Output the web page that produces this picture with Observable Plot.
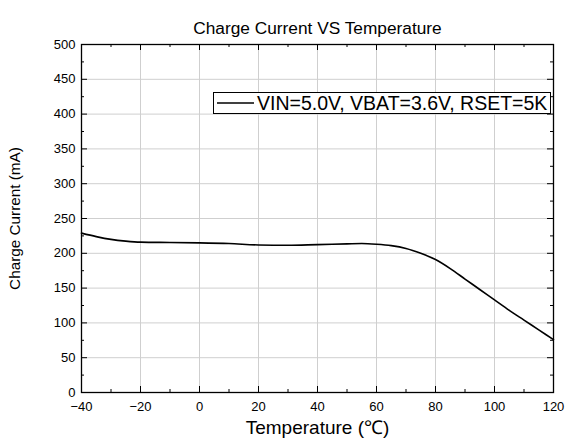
<!DOCTYPE html>
<html><head><meta charset="utf-8">
<script src="https://cdn.jsdelivr.net/npm/d3@7"></script>
<script src="https://cdn.jsdelivr.net/npm/@observablehq/plot@0.6"></script>
<style>body{margin:0;background:#fff}svg{font-family:"Liberation Sans",Arial,sans-serif}</style>
</head><body><div id="chart"></div>
<script>
const temperature = [-40,-35,-30,-25,-20,-10,0,10,20,30,40,50,55,60,65,70,75,80,85,90,95,100,105,110,115,120];
const current =     [229,224,220,217.5,216,215.5,215,214,212,211.5,212.5,213.5,214,213,211,207,200,191,178,163,148,133,118,104,90,76];
const xTicks = [-40,-20,0,20,40,60,80,100,120];
const xMinor = [-30,-10,10,30,50,70,90,110];
const yTicks = [0,50,100,150,200,250,300,350,400,450,500];
const yMinor = [25,75,125,175,225,275,325,375,425,475];
const title = "Charge Current VS Temperature";
const xLabel = "Temperature (\u2103)";
const yLabel = "Charge Current (mA)";
const legendLabel = "VIN=5.0V, VBAT=3.6V, RSET=5K";

const W = 566, H = 445, mL = 81, mR = 13, mT = 44, mB = 53;
const fw = W - mL - mR, fh = H - mT - mB;
const data = temperature.map((t,i)=>({t, c: current[i]}));
const maj = 6, mnr = 3;

const chart = Plot.plot({
  width: W, height: H, marginLeft: mL, marginRight: mR, marginTop: mT, marginBottom: mB,
  x: {domain: [-40,120]}, y: {domain: [0,500]},
  style: {fontFamily: '"Liberation Sans", Arial, sans-serif', fontSize: "13px", color: "#000", background: "#fff"},
  marks: [
    Plot.gridX(xTicks, {stroke: "#cfcfcf", strokeOpacity: 1, strokeWidth: 1}),
    Plot.gridY(yTicks, {stroke: "#cfcfcf", strokeOpacity: 1, strokeWidth: 1}),
    Plot.line(data, {x: "t", y: "c", curve: "monotone-x", stroke: "#000", strokeWidth: 1.6}),
    Plot.tickX(xTicks, {x: d=>d, insetTop: fh - maj, stroke: "#000"}),
    Plot.tickX(xMinor, {x: d=>d, insetTop: fh - mnr, stroke: "#000"}),
    Plot.tickX(xTicks, {x: d=>d, insetBottom: fh - maj, stroke: "#000"}),
    Plot.tickX(xMinor, {x: d=>d, insetBottom: fh - mnr, stroke: "#000"}),
    Plot.tickY(yTicks, {y: d=>d, insetRight: fw - maj, stroke: "#000"}),
    Plot.tickY(yMinor, {y: d=>d, insetRight: fw - mnr, stroke: "#000"}),
    Plot.tickY(yTicks, {y: d=>d, insetLeft: fw - maj, stroke: "#000"}),
    Plot.tickY(yMinor, {y: d=>d, insetLeft: fw - mnr, stroke: "#000"}),
    Plot.frame({stroke: "#000", strokeWidth: 1.3}),
    Plot.axisX(xTicks, {tickSize: 0, tickPadding: 9, label: null, fontSize: 13}),
    Plot.axisY(yTicks, {tickSize: 0, tickPadding: 6, label: null, fontSize: 13}),
    Plot.text([title], {frameAnchor: "top", dy: -23, fontSize: 17.3, text: d=>d}),
    Plot.text([xLabel], {frameAnchor: "bottom", dy: 41, fontSize: 19, text: d=>d}),
    Plot.text([yLabel], {frameAnchor: "left", textAnchor: "middle", dx: -66, rotate: -90, fontSize: 15.3, text: d=>d})
  ]
});
document.getElementById("chart").appendChild(chart);

const svg = d3.select(chart);
const g = svg.append("g");
g.append("rect").attr("x", 213.5).attr("y", 92.5).attr("width", 337).attr("height", 21)
  .attr("fill", "#fff").attr("stroke", "#000").attr("stroke-width", 1);
g.append("line").attr("x1", 217).attr("x2", 254).attr("y1", 103).attr("y2", 103)
  .attr("stroke", "#000").attr("stroke-width", 1.7);
g.append("text").attr("x", 257).attr("y", 103).attr("dy", "0.36em").attr("text-anchor", "start")
  .attr("font-size", 19.5).attr("fill", "#000").text(legendLabel);
</script></body></html>
